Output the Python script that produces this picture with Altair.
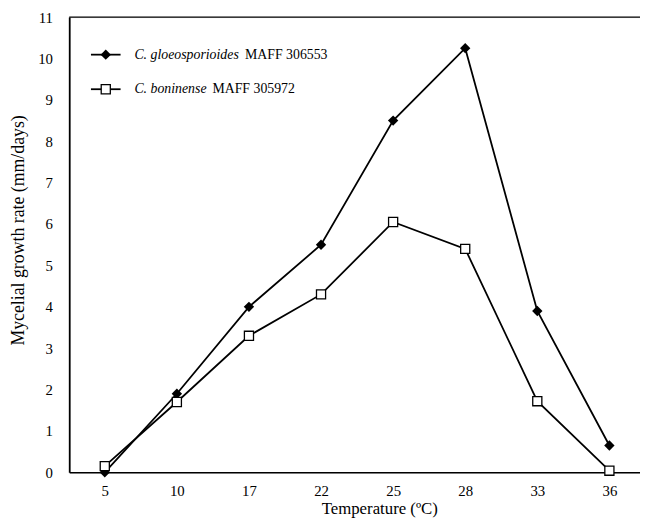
import altair as alt
import pandas as pd

temps = ["5", "10", "17", "22", "25", "28", "33", "36"]
gloeo = [0.0, 1.9, 4.0, 5.5, 8.5, 10.25, 3.9, 0.65]
bonin = [0.15, 1.7, 3.3, 4.3, 6.05, 5.4, 1.72, 0.04]
legend_italic = ["C. gloeosporioides", "C. boninense"]
legend_rest = ["MAFF 306553", "MAFF 305972"]
y_ticks = list(range(0, 12))

W, H = 578, 461
FONT = "Liberation Serif"

rows = []
for i, t in enumerate(temps):
    rows.append({"idx": i, "temp": t, "rate": gloeo[i], "series": "g"})
for i, t in enumerate(temps):
    rows.append({"idx": i, "temp": t, "rate": bonin[i], "series": "b"})
df = pd.DataFrame(rows)
dg = df[df.series == "g"]
db = df[df.series == "b"]

label_arr = "[" + ",".join("'%s'" % t for t in temps) + "]"
xscale = alt.Scale(domain=[-0.4932, 7.4247], nice=False, zero=False)
yscale = alt.Scale(domain=[0, 11], nice=False)

xenc = alt.X("idx:Q", scale=xscale, title="Temperature (ºC)",
             axis=alt.Axis(values=list(range(len(temps))), labelExpr=label_arr + "[datum.value]",
                           ticks=False, tickSize=0, grid=False, domainColor="black", domainWidth=1.5,
                           labelFont=FONT, labelFontSize=15, labelColor="black", labelPadding=11,
                           labelBaseline="top",
                           titleFont=FONT, titleFontSize=17, titleFontWeight="normal",
                           titleColor="black", titleX=314, titleY=37, titleAlign="center",
                           titleBaseline="middle"))
yenc = alt.Y("rate:Q", scale=yscale, title="Mycelial growth rate (mm/days)",
             axis=alt.Axis(values=y_ticks, ticks=False, tickSize=0, grid=False,
                           domainColor="black", domainWidth=1.8,
                           labelFont=FONT, labelFontSize=15, labelColor="black", labelPadding=17,
                           titleFont=FONT, titleFontSize=18, titleFontWeight="normal",
                           titleColor="black", titleX=-51, titleY=H / 2 - 15, titleAlign="center",
                           titleBaseline="middle", titleAngle=270))

line_g = alt.Chart(dg).mark_line(color="black", strokeWidth=1.8).encode(x=xenc, y=yenc)
line_b = alt.Chart(db).mark_line(color="black", strokeWidth=1.8).encode(x="idx:Q", y="rate:Q")
pts_g = alt.Chart(dg).mark_point(shape="diamond", filled=True, color="black", size=110, opacity=1).encode(x="idx:Q", y="rate:Q")
pts_b = alt.Chart(db).mark_point(shape="square", filled=True, fill="white", stroke="black",
                                 strokeWidth=1.3, size=85, opacity=1).encode(x="idx:Q", y="rate:Q")

one = pd.DataFrame({"a": [0]})
top_rule = alt.Chart(one).mark_rule(color="black", strokeWidth=1.5).encode(
    x=alt.value(0), x2=alt.value(W), y=alt.value(0))

leg_y = [38, 73]
leg = []
for k in range(2):
    ld = pd.DataFrame({"it": [legend_italic[k]], "rest": [legend_rest[k]]})
    leg.append(alt.Chart(ld).mark_rule(color="black", strokeWidth=1.8).encode(
        x=alt.value(22), x2=alt.value(52), y=alt.value(leg_y[k])))
    if k == 0:
        leg.append(alt.Chart(ld).mark_point(shape="diamond", filled=True, color="black", size=110, opacity=1).encode(
            x=alt.value(37), y=alt.value(leg_y[k])))
    else:
        leg.append(alt.Chart(ld).mark_point(shape="square", filled=True, fill="white", stroke="black",
                                            strokeWidth=1.3, size=85, opacity=1).encode(
            x=alt.value(37), y=alt.value(leg_y[k])))
    leg.append(alt.Chart(ld).mark_text(align="left", baseline="middle", font=FONT, fontSize=14,
                                       fontStyle="italic", color="black").encode(
        x=alt.value(66), y=alt.value(leg_y[k]), text="it:N"))
    rest_x = 66 + (112 if k == 0 else 79)
    leg.append(alt.Chart(ld).mark_text(align="left", baseline="middle", font=FONT, fontSize=14,
                                       color="black").encode(
        x=alt.value(rest_x), y=alt.value(leg_y[k]), text="rest:N"))

chart = alt.layer(line_g, line_b, pts_g, pts_b, top_rule, *leg).properties(
    width=W, height=H,
    autosize=alt.AutoSizeParams(type="none"),
    padding={"left": 62, "top": 6, "right": 0, "bottom": 46}
).configure_view(stroke=None).configure(background="white")

chart.save("out.html", embed_options={"renderer": "svg", "actions": False})
